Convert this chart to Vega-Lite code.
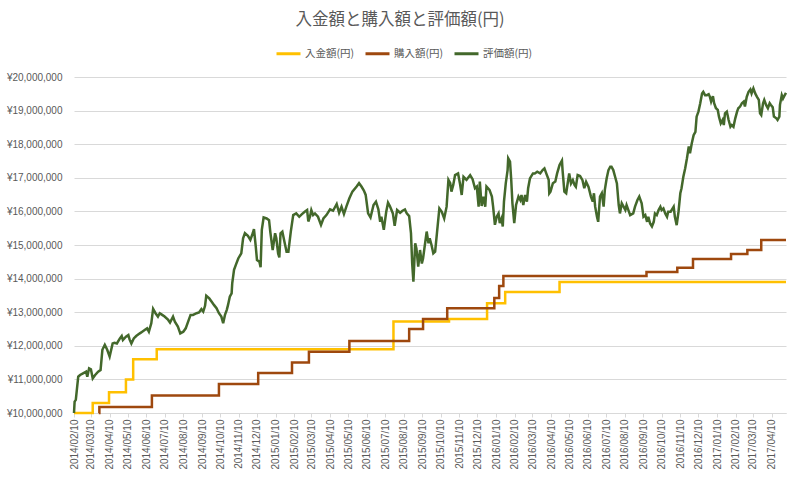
{
  "$schema": "https://vega.github.io/schema/vega-lite/v6.json",
  "width": 712,
  "height": 336,
  "autosize": {"type": "none"},
  "padding": {"left": 74, "top": 77, "right": 14, "bottom": 67},
  "background": "white",
  "title": {
    "text": "入金額と購入額と評価額(円)",
    "anchor": "middle",
    "dx": -30,
    "offset": 12,
    "font": "Noto Sans CJK JP",
    "fontSize": 16.5,
    "fontWeight": "normal",
    "color": "#595959"
  },
  "datasets": {
    "steps": [
      {"date": "2014/02/10", "series": "入金額(円)", "yen": 10000000},
      {"date": "2014/03/13", "series": "入金額(円)", "yen": 10300000},
      {"date": "2014/04/09", "series": "入金額(円)", "yen": 10620000},
      {"date": "2014/05/07", "series": "入金額(円)", "yen": 11000000},
      {"date": "2014/05/19", "series": "入金額(円)", "yen": 11600000},
      {"date": "2014/06/27", "series": "入金額(円)", "yen": 11900000},
      {"date": "2015/07/24", "series": "入金額(円)", "yen": 12720000},
      {"date": "2015/10/24", "series": "入金額(円)", "yen": 12800000},
      {"date": "2015/12/26", "series": "入金額(円)", "yen": 13270000},
      {"date": "2016/01/25", "series": "入金額(円)", "yen": 13600000},
      {"date": "2016/04/24", "series": "入金額(円)", "yen": 13900000},
      {"date": "2017/05/04", "series": "入金額(円)", "yen": 13900000},
      {"date": "2014/03/23", "series": "購入額(円)", "yen": 10000000},
      {"date": "2014/03/24", "series": "購入額(円)", "yen": 10180000},
      {"date": "2014/06/19", "series": "購入額(円)", "yen": 10520000},
      {"date": "2014/10/08", "series": "購入額(円)", "yen": 10860000},
      {"date": "2014/12/12", "series": "購入額(円)", "yen": 11190000},
      {"date": "2015/02/06", "series": "購入額(円)", "yen": 11500000},
      {"date": "2015/03/06", "series": "購入額(円)", "yen": 11820000},
      {"date": "2015/05/12", "series": "購入額(円)", "yen": 12140000},
      {"date": "2015/08/19", "series": "購入額(円)", "yen": 12500000},
      {"date": "2015/09/11", "series": "購入額(円)", "yen": 12800000},
      {"date": "2015/10/21", "series": "購入額(円)", "yen": 13120000},
      {"date": "2016/01/07", "series": "購入額(円)", "yen": 13420000},
      {"date": "2016/01/15", "series": "購入額(円)", "yen": 13780000},
      {"date": "2016/01/22", "series": "購入額(円)", "yen": 14080000},
      {"date": "2016/09/15", "series": "購入額(円)", "yen": 14200000},
      {"date": "2016/11/05", "series": "購入額(円)", "yen": 14320000},
      {"date": "2016/12/01", "series": "購入額(円)", "yen": 14580000},
      {"date": "2017/02/02", "series": "購入額(円)", "yen": 14730000},
      {"date": "2017/03/01", "series": "購入額(円)", "yen": 14850000},
      {"date": "2017/03/24", "series": "購入額(円)", "yen": 15150000},
      {"date": "2017/05/04", "series": "購入額(円)", "yen": 15150000}
    ],
    "value": [
      {"date": "2014/02/10", "yen": 10000000},
      {"date": "2014/02/11", "yen": 10340000},
      {"date": "2014/02/13", "yen": 10390000},
      {"date": "2014/02/17", "yen": 11080000},
      {"date": "2014/02/20", "yen": 11130000},
      {"date": "2014/02/25", "yen": 11180000},
      {"date": "2014/03/02", "yen": 11230000},
      {"date": "2014/03/04", "yen": 11080000},
      {"date": "2014/03/07", "yen": 11330000},
      {"date": "2014/03/10", "yen": 11300000},
      {"date": "2014/03/13", "yen": 11030000},
      {"date": "2014/03/17", "yen": 11130000},
      {"date": "2014/03/22", "yen": 11230000},
      {"date": "2014/03/26", "yen": 11280000},
      {"date": "2014/03/29", "yen": 11880000},
      {"date": "2014/04/02", "yen": 12030000},
      {"date": "2014/04/06", "yen": 11880000},
      {"date": "2014/04/10", "yen": 11680000},
      {"date": "2014/04/15", "yen": 12070000},
      {"date": "2014/04/18", "yen": 12090000},
      {"date": "2014/04/22", "yen": 12070000},
      {"date": "2014/04/27", "yen": 12220000},
      {"date": "2014/04/30", "yen": 12290000},
      {"date": "2014/05/02", "yen": 12170000},
      {"date": "2014/05/07", "yen": 12270000},
      {"date": "2014/05/11", "yen": 12320000},
      {"date": "2014/05/13", "yen": 12190000},
      {"date": "2014/05/16", "yen": 12070000},
      {"date": "2014/05/20", "yen": 12220000},
      {"date": "2014/05/24", "yen": 12290000},
      {"date": "2014/05/30", "yen": 12370000},
      {"date": "2014/06/03", "yen": 12420000},
      {"date": "2014/06/07", "yen": 12470000},
      {"date": "2014/06/11", "yen": 12520000},
      {"date": "2014/06/14", "yen": 12420000},
      {"date": "2014/06/18", "yen": 12670000},
      {"date": "2014/06/21", "yen": 13100000},
      {"date": "2014/06/25", "yen": 12970000},
      {"date": "2014/06/29", "yen": 12870000},
      {"date": "2014/07/02", "yen": 12970000},
      {"date": "2014/07/06", "yen": 12920000},
      {"date": "2014/07/10", "yen": 12870000},
      {"date": "2014/07/16", "yen": 12770000},
      {"date": "2014/07/19", "yen": 12690000},
      {"date": "2014/07/24", "yen": 12870000},
      {"date": "2014/07/27", "yen": 12720000},
      {"date": "2014/08/01", "yen": 12570000},
      {"date": "2014/08/05", "yen": 12370000},
      {"date": "2014/08/10", "yen": 12420000},
      {"date": "2014/08/14", "yen": 12520000},
      {"date": "2014/08/18", "yen": 12720000},
      {"date": "2014/08/22", "yen": 12920000},
      {"date": "2014/08/26", "yen": 12920000},
      {"date": "2014/09/01", "yen": 12970000},
      {"date": "2014/09/05", "yen": 12990000},
      {"date": "2014/09/09", "yen": 13090000},
      {"date": "2014/09/12", "yen": 13020000},
      {"date": "2014/09/15", "yen": 13190000},
      {"date": "2014/09/17", "yen": 13490000},
      {"date": "2014/09/22", "yen": 13410000},
      {"date": "2014/09/26", "yen": 13310000},
      {"date": "2014/09/30", "yen": 13210000},
      {"date": "2014/10/04", "yen": 13120000},
      {"date": "2014/10/08", "yen": 12970000},
      {"date": "2014/10/12", "yen": 12870000},
      {"date": "2014/10/15", "yen": 12670000},
      {"date": "2014/10/18", "yen": 12920000},
      {"date": "2014/10/21", "yen": 13070000},
      {"date": "2014/10/23", "yen": 13210000},
      {"date": "2014/10/26", "yen": 13460000},
      {"date": "2014/10/29", "yen": 13560000},
      {"date": "2014/10/30", "yen": 13860000},
      {"date": "2014/11/02", "yen": 14260000},
      {"date": "2014/11/05", "yen": 14410000},
      {"date": "2014/11/09", "yen": 14600000},
      {"date": "2014/11/14", "yen": 14750000},
      {"date": "2014/11/17", "yen": 15200000},
      {"date": "2014/11/20", "yen": 15350000},
      {"date": "2014/11/25", "yen": 15270000},
      {"date": "2014/11/29", "yen": 15150000},
      {"date": "2014/12/03", "yen": 15350000},
      {"date": "2014/12/05", "yen": 15470000},
      {"date": "2014/12/08", "yen": 14950000},
      {"date": "2014/12/10", "yen": 14550000},
      {"date": "2014/12/14", "yen": 14500000},
      {"date": "2014/12/16", "yen": 14340000},
      {"date": "2014/12/18", "yen": 15450000},
      {"date": "2014/12/21", "yen": 15820000},
      {"date": "2014/12/26", "yen": 15790000},
      {"date": "2014/12/30", "yen": 15740000},
      {"date": "2015/01/01", "yen": 15400000},
      {"date": "2015/01/05", "yen": 14850000},
      {"date": "2015/01/09", "yen": 15350000},
      {"date": "2015/01/11", "yen": 15200000},
      {"date": "2015/01/14", "yen": 14750000},
      {"date": "2015/01/16", "yen": 14630000},
      {"date": "2015/01/18", "yen": 15350000},
      {"date": "2015/01/21", "yen": 15400000},
      {"date": "2015/01/25", "yen": 15050000},
      {"date": "2015/01/28", "yen": 14800000},
      {"date": "2015/01/31", "yen": 14800000},
      {"date": "2015/02/04", "yen": 15400000},
      {"date": "2015/02/08", "yen": 15890000},
      {"date": "2015/02/13", "yen": 15940000},
      {"date": "2015/02/18", "yen": 15840000},
      {"date": "2015/02/22", "yen": 15910000},
      {"date": "2015/02/27", "yen": 15990000},
      {"date": "2015/03/03", "yen": 16040000},
      {"date": "2015/03/05", "yen": 15700000},
      {"date": "2015/03/08", "yen": 15860000},
      {"date": "2015/03/10", "yen": 16040000},
      {"date": "2015/03/13", "yen": 15890000},
      {"date": "2015/03/16", "yen": 15940000},
      {"date": "2015/03/21", "yen": 15840000},
      {"date": "2015/03/26", "yen": 15600000},
      {"date": "2015/03/30", "yen": 15790000},
      {"date": "2015/04/04", "yen": 15890000},
      {"date": "2015/04/10", "yen": 16060000},
      {"date": "2015/04/15", "yen": 16020000},
      {"date": "2015/04/21", "yen": 16220000},
      {"date": "2015/04/25", "yen": 15960000},
      {"date": "2015/04/29", "yen": 16140000},
      {"date": "2015/05/03", "yen": 15920000},
      {"date": "2015/05/07", "yen": 16140000},
      {"date": "2015/05/12", "yen": 16390000},
      {"date": "2015/05/17", "yen": 16590000},
      {"date": "2015/05/24", "yen": 16740000},
      {"date": "2015/05/28", "yen": 16840000},
      {"date": "2015/06/01", "yen": 16740000},
      {"date": "2015/06/05", "yen": 16620000},
      {"date": "2015/06/08", "yen": 16490000},
      {"date": "2015/06/12", "yen": 15940000},
      {"date": "2015/06/16", "yen": 15820000},
      {"date": "2015/06/21", "yen": 16190000},
      {"date": "2015/06/25", "yen": 16290000},
      {"date": "2015/06/29", "yen": 16060000},
      {"date": "2015/07/02", "yen": 15690000},
      {"date": "2015/07/04", "yen": 15840000},
      {"date": "2015/07/08", "yen": 15450000},
      {"date": "2015/07/12", "yen": 15990000},
      {"date": "2015/07/15", "yen": 16260000},
      {"date": "2015/07/18", "yen": 16160000},
      {"date": "2015/07/23", "yen": 15940000},
      {"date": "2015/07/26", "yen": 15570000},
      {"date": "2015/07/30", "yen": 16040000},
      {"date": "2015/08/04", "yen": 15960000},
      {"date": "2015/08/08", "yen": 16020000},
      {"date": "2015/08/12", "yen": 16060000},
      {"date": "2015/08/15", "yen": 15940000},
      {"date": "2015/08/19", "yen": 15860000},
      {"date": "2015/08/22", "yen": 15350000},
      {"date": "2015/08/24", "yen": 14450000},
      {"date": "2015/08/26", "yen": 13910000},
      {"date": "2015/08/29", "yen": 15050000},
      {"date": "2015/08/31", "yen": 14900000},
      {"date": "2015/09/03", "yen": 14360000},
      {"date": "2015/09/06", "yen": 14850000},
      {"date": "2015/09/09", "yen": 14450000},
      {"date": "2015/09/11", "yen": 14600000},
      {"date": "2015/09/14", "yen": 15000000},
      {"date": "2015/09/17", "yen": 15400000},
      {"date": "2015/09/20", "yen": 15050000},
      {"date": "2015/09/22", "yen": 15200000},
      {"date": "2015/09/25", "yen": 15000000},
      {"date": "2015/09/28", "yen": 14750000},
      {"date": "2015/10/01", "yen": 14800000},
      {"date": "2015/10/04", "yen": 15350000},
      {"date": "2015/10/08", "yen": 16090000},
      {"date": "2015/10/12", "yen": 15990000},
      {"date": "2015/10/16", "yen": 15790000},
      {"date": "2015/10/20", "yen": 16140000},
      {"date": "2015/10/23", "yen": 16940000},
      {"date": "2015/10/26", "yen": 16840000},
      {"date": "2015/10/28", "yen": 16590000},
      {"date": "2015/10/31", "yen": 16790000},
      {"date": "2015/11/03", "yen": 17080000},
      {"date": "2015/11/08", "yen": 17130000},
      {"date": "2015/11/11", "yen": 16840000},
      {"date": "2015/11/14", "yen": 16490000},
      {"date": "2015/11/17", "yen": 17030000},
      {"date": "2015/11/22", "yen": 16940000},
      {"date": "2015/11/28", "yen": 17080000},
      {"date": "2015/12/02", "yen": 16960000},
      {"date": "2015/12/06", "yen": 16690000},
      {"date": "2015/12/09", "yen": 16740000},
      {"date": "2015/12/12", "yen": 16140000},
      {"date": "2015/12/14", "yen": 16890000},
      {"date": "2015/12/17", "yen": 16160000},
      {"date": "2015/12/20", "yen": 16440000},
      {"date": "2015/12/23", "yen": 16140000},
      {"date": "2015/12/25", "yen": 16740000},
      {"date": "2015/12/30", "yen": 16640000},
      {"date": "2016/01/03", "yen": 16440000},
      {"date": "2016/01/05", "yen": 16140000},
      {"date": "2016/01/08", "yen": 15600000},
      {"date": "2016/01/11", "yen": 15840000},
      {"date": "2016/01/14", "yen": 15940000},
      {"date": "2016/01/16", "yen": 15650000},
      {"date": "2016/01/19", "yen": 15790000},
      {"date": "2016/01/21", "yen": 15550000},
      {"date": "2016/01/23", "yen": 16290000},
      {"date": "2016/01/26", "yen": 16840000},
      {"date": "2016/01/29", "yen": 17230000},
      {"date": "2016/01/30", "yen": 17580000},
      {"date": "2016/02/02", "yen": 17480000},
      {"date": "2016/02/04", "yen": 16940000},
      {"date": "2016/02/06", "yen": 16240000},
      {"date": "2016/02/09", "yen": 15650000},
      {"date": "2016/02/12", "yen": 16190000},
      {"date": "2016/02/16", "yen": 16440000},
      {"date": "2016/02/19", "yen": 16340000},
      {"date": "2016/02/21", "yen": 16490000},
      {"date": "2016/02/24", "yen": 16190000},
      {"date": "2016/02/27", "yen": 16490000},
      {"date": "2016/03/01", "yen": 16290000},
      {"date": "2016/03/03", "yen": 16690000},
      {"date": "2016/03/06", "yen": 16980000},
      {"date": "2016/03/11", "yen": 17130000},
      {"date": "2016/03/14", "yen": 17130000},
      {"date": "2016/03/18", "yen": 17180000},
      {"date": "2016/03/23", "yen": 17130000},
      {"date": "2016/03/27", "yen": 17230000},
      {"date": "2016/03/30", "yen": 17280000},
      {"date": "2016/04/02", "yen": 17130000},
      {"date": "2016/04/06", "yen": 16940000},
      {"date": "2016/04/07", "yen": 16540000},
      {"date": "2016/04/09", "yen": 16590000},
      {"date": "2016/04/13", "yen": 16840000},
      {"date": "2016/04/17", "yen": 16890000},
      {"date": "2016/04/20", "yen": 17130000},
      {"date": "2016/04/24", "yen": 17380000},
      {"date": "2016/04/28", "yen": 17510000},
      {"date": "2016/04/29", "yen": 17230000},
      {"date": "2016/05/02", "yen": 16590000},
      {"date": "2016/05/05", "yen": 16540000},
      {"date": "2016/05/07", "yen": 16780000},
      {"date": "2016/05/10", "yen": 17130000},
      {"date": "2016/05/13", "yen": 16830000},
      {"date": "2016/05/16", "yen": 16930000},
      {"date": "2016/05/19", "yen": 16780000},
      {"date": "2016/05/21", "yen": 16730000},
      {"date": "2016/05/24", "yen": 17080000},
      {"date": "2016/05/28", "yen": 17050000},
      {"date": "2016/06/01", "yen": 16930000},
      {"date": "2016/06/04", "yen": 16690000},
      {"date": "2016/06/07", "yen": 16880000},
      {"date": "2016/06/11", "yen": 16730000},
      {"date": "2016/06/15", "yen": 16440000},
      {"date": "2016/06/18", "yen": 16290000},
      {"date": "2016/06/20", "yen": 16540000},
      {"date": "2016/06/22", "yen": 16140000},
      {"date": "2016/06/25", "yen": 15840000},
      {"date": "2016/06/27", "yen": 15690000},
      {"date": "2016/06/30", "yen": 16440000},
      {"date": "2016/07/03", "yen": 16540000},
      {"date": "2016/07/06", "yen": 16140000},
      {"date": "2016/07/08", "yen": 16640000},
      {"date": "2016/07/11", "yen": 16980000},
      {"date": "2016/07/14", "yen": 17230000},
      {"date": "2016/07/17", "yen": 17330000},
      {"date": "2016/07/19", "yen": 17330000},
      {"date": "2016/07/22", "yen": 17230000},
      {"date": "2016/07/25", "yen": 17030000},
      {"date": "2016/07/28", "yen": 16830000},
      {"date": "2016/07/31", "yen": 16190000},
      {"date": "2016/08/02", "yen": 15940000},
      {"date": "2016/08/05", "yen": 16240000},
      {"date": "2016/08/08", "yen": 16140000},
      {"date": "2016/08/11", "yen": 16040000},
      {"date": "2016/08/13", "yen": 16190000},
      {"date": "2016/08/16", "yen": 16040000},
      {"date": "2016/08/19", "yen": 15890000},
      {"date": "2016/08/24", "yen": 15940000},
      {"date": "2016/08/27", "yen": 16140000},
      {"date": "2016/08/31", "yen": 16340000},
      {"date": "2016/09/03", "yen": 16440000},
      {"date": "2016/09/07", "yen": 16240000},
      {"date": "2016/09/10", "yen": 15840000},
      {"date": "2016/09/13", "yen": 15890000},
      {"date": "2016/09/16", "yen": 15690000},
      {"date": "2016/09/18", "yen": 15840000},
      {"date": "2016/09/21", "yen": 15640000},
      {"date": "2016/09/24", "yen": 15550000},
      {"date": "2016/09/27", "yen": 15690000},
      {"date": "2016/09/29", "yen": 15940000},
      {"date": "2016/10/02", "yen": 15890000},
      {"date": "2016/10/05", "yen": 16040000},
      {"date": "2016/10/08", "yen": 16140000},
      {"date": "2016/10/10", "yen": 16040000},
      {"date": "2016/10/13", "yen": 16090000},
      {"date": "2016/10/16", "yen": 15940000},
      {"date": "2016/10/19", "yen": 15840000},
      {"date": "2016/10/21", "yen": 15990000},
      {"date": "2016/10/25", "yen": 15990000},
      {"date": "2016/10/30", "yen": 16140000},
      {"date": "2016/11/01", "yen": 15840000},
      {"date": "2016/11/04", "yen": 15590000},
      {"date": "2016/11/07", "yen": 15990000},
      {"date": "2016/11/10", "yen": 16540000},
      {"date": "2016/11/12", "yen": 16690000},
      {"date": "2016/11/15", "yen": 17030000},
      {"date": "2016/11/18", "yen": 17280000},
      {"date": "2016/11/21", "yen": 17580000},
      {"date": "2016/11/24", "yen": 17930000},
      {"date": "2016/11/26", "yen": 17730000},
      {"date": "2016/11/29", "yen": 18030000},
      {"date": "2016/12/02", "yen": 18270000},
      {"date": "2016/12/05", "yen": 18370000},
      {"date": "2016/12/07", "yen": 18820000},
      {"date": "2016/12/10", "yen": 18970000},
      {"date": "2016/12/13", "yen": 19220000},
      {"date": "2016/12/16", "yen": 19510000},
      {"date": "2016/12/18", "yen": 19560000},
      {"date": "2016/12/21", "yen": 19460000},
      {"date": "2016/12/24", "yen": 19460000},
      {"date": "2016/12/27", "yen": 19490000},
      {"date": "2016/12/29", "yen": 19410000},
      {"date": "2016/12/31", "yen": 19270000},
      {"date": "2017/01/03", "yen": 19430000},
      {"date": "2017/01/05", "yen": 19220000},
      {"date": "2017/01/08", "yen": 19070000},
      {"date": "2017/01/11", "yen": 19020000},
      {"date": "2017/01/13", "yen": 18820000},
      {"date": "2017/01/16", "yen": 18620000},
      {"date": "2017/01/19", "yen": 18720000},
      {"date": "2017/01/21", "yen": 18570000},
      {"date": "2017/01/23", "yen": 18920000},
      {"date": "2017/01/26", "yen": 18970000},
      {"date": "2017/01/29", "yen": 18720000},
      {"date": "2017/02/01", "yen": 18520000},
      {"date": "2017/02/03", "yen": 18570000},
      {"date": "2017/02/06", "yen": 18520000},
      {"date": "2017/02/09", "yen": 18770000},
      {"date": "2017/02/12", "yen": 18970000},
      {"date": "2017/02/14", "yen": 19070000},
      {"date": "2017/02/17", "yen": 19120000},
      {"date": "2017/02/20", "yen": 19220000},
      {"date": "2017/02/23", "yen": 19270000},
      {"date": "2017/02/25", "yen": 19120000},
      {"date": "2017/02/28", "yen": 19410000},
      {"date": "2017/03/03", "yen": 19560000},
      {"date": "2017/03/06", "yen": 19630000},
      {"date": "2017/03/08", "yen": 19510000},
      {"date": "2017/03/11", "yen": 19660000},
      {"date": "2017/03/14", "yen": 19510000},
      {"date": "2017/03/17", "yen": 19410000},
      {"date": "2017/03/20", "yen": 19320000},
      {"date": "2017/03/22", "yen": 18920000},
      {"date": "2017/03/24", "yen": 18870000},
      {"date": "2017/03/27", "yen": 19220000},
      {"date": "2017/03/29", "yen": 19320000},
      {"date": "2017/04/01", "yen": 19170000},
      {"date": "2017/04/04", "yen": 19070000},
      {"date": "2017/04/07", "yen": 19220000},
      {"date": "2017/04/09", "yen": 19170000},
      {"date": "2017/04/12", "yen": 19100000},
      {"date": "2017/04/14", "yen": 18820000},
      {"date": "2017/04/18", "yen": 18770000},
      {"date": "2017/04/20", "yen": 18720000},
      {"date": "2017/04/23", "yen": 18820000},
      {"date": "2017/04/24", "yen": 19170000},
      {"date": "2017/04/27", "yen": 19460000},
      {"date": "2017/04/29", "yen": 19360000},
      {"date": "2017/05/01", "yen": 19430000},
      {"date": "2017/05/04", "yen": 19530000}
    ]
  },
  "encoding": {
    "x": {
      "field": "date",
      "type": "temporal",
      "scale": {
        "domain": [
          {"year": 2014, "month": 2, "date": 10},
          {"year": 2017, "month": 5, "date": 4}
        ],
        "nice": false
      },
      "axis": {
        "title": null,
        "format": "%Y/%m/%d",
        "labelAngle": 270,
        "labelOverlap": false,
        "labelFont": "Liberation Sans",
        "labelFontSize": 10,
        "labelColor": "#595959",
        "labelPadding": 2,
        "grid": false,
        "domainColor": "#d9d9d9",
        "tickColor": "#d9d9d9",
        "tickSize": 4,
        "values": [
          {"year": 2014, "month": 2, "date": 10},
          {"year": 2014, "month": 3, "date": 10},
          {"year": 2014, "month": 4, "date": 10},
          {"year": 2014, "month": 5, "date": 10},
          {"year": 2014, "month": 6, "date": 10},
          {"year": 2014, "month": 7, "date": 10},
          {"year": 2014, "month": 8, "date": 10},
          {"year": 2014, "month": 9, "date": 10},
          {"year": 2014, "month": 10, "date": 10},
          {"year": 2014, "month": 11, "date": 10},
          {"year": 2014, "month": 12, "date": 10},
          {"year": 2015, "month": 1, "date": 10},
          {"year": 2015, "month": 2, "date": 10},
          {"year": 2015, "month": 3, "date": 10},
          {"year": 2015, "month": 4, "date": 10},
          {"year": 2015, "month": 5, "date": 10},
          {"year": 2015, "month": 6, "date": 10},
          {"year": 2015, "month": 7, "date": 10},
          {"year": 2015, "month": 8, "date": 10},
          {"year": 2015, "month": 9, "date": 10},
          {"year": 2015, "month": 10, "date": 10},
          {"year": 2015, "month": 11, "date": 10},
          {"year": 2015, "month": 12, "date": 10},
          {"year": 2016, "month": 1, "date": 10},
          {"year": 2016, "month": 2, "date": 10},
          {"year": 2016, "month": 3, "date": 10},
          {"year": 2016, "month": 4, "date": 10},
          {"year": 2016, "month": 5, "date": 10},
          {"year": 2016, "month": 6, "date": 10},
          {"year": 2016, "month": 7, "date": 10},
          {"year": 2016, "month": 8, "date": 10},
          {"year": 2016, "month": 9, "date": 10},
          {"year": 2016, "month": 10, "date": 10},
          {"year": 2016, "month": 11, "date": 10},
          {"year": 2016, "month": 12, "date": 10},
          {"year": 2017, "month": 1, "date": 10},
          {"year": 2017, "month": 2, "date": 10},
          {"year": 2017, "month": 3, "date": 10},
          {"year": 2017, "month": 4, "date": 10}
        ]
      }
    },
    "y": {
      "field": "yen",
      "type": "quantitative",
      "scale": {"domain": [10000000, 20000000], "nice": false, "zero": false},
      "axis": {
        "title": null,
        "values": [10000000, 11000000, 12000000, 13000000, 14000000, 15000000, 16000000, 17000000, 18000000, 19000000, 20000000],
        "labelExpr": "'¥' + format(datum.value, ',')",
        "labelFont": "Liberation Sans",
        "labelFontSize": 10,
        "labelColor": "#595959",
        "labelPadding": 12,
        "domain": false,
        "ticks": false,
        "tickSize": 0,
        "gridColor": "#d9d9d9",
        "gridWidth": 1
      }
    }
  },
  "layer": [
    {
      "data": {"name": "steps"},
      "mark": {"type": "line", "interpolate": "step-after", "strokeWidth": 2.5},
      "encoding": {
        "color": {
          "field": "series",
          "type": "nominal",
          "scale": {
            "domain": ["入金額(円)", "購入額(円)", "評価額(円)"],
            "range": ["#FFC000", "#9E480E", "#43682B"]
          },
          "legend": {
            "title": null,
            "orient": "none",
            "legendX": 201,
            "legendY": -37,
            "direction": "horizontal",
            "columns": 3,
            "columnPadding": 4,
            "symbolType": "stroke",
            "symbolSize": 576,
            "symbolStrokeWidth": 3,
            "labelOffset": 3,
            "labelFont": "Noto Sans CJK JP",
            "labelFontSize": 10.5,
            "labelColor": "#595959"
          }
        }
      }
    },
    {
      "data": {"name": "value"},
      "mark": {"type": "line", "strokeWidth": 2.5},
      "encoding": {
        "color": {
          "datum": "評価額(円)",
          "type": "nominal",
          "scale": {
            "domain": ["入金額(円)", "購入額(円)", "評価額(円)"],
            "range": ["#FFC000", "#9E480E", "#43682B"]
          }
        }
      }
    }
  ],
  "config": {
    "view": {"stroke": null}
  }
}
